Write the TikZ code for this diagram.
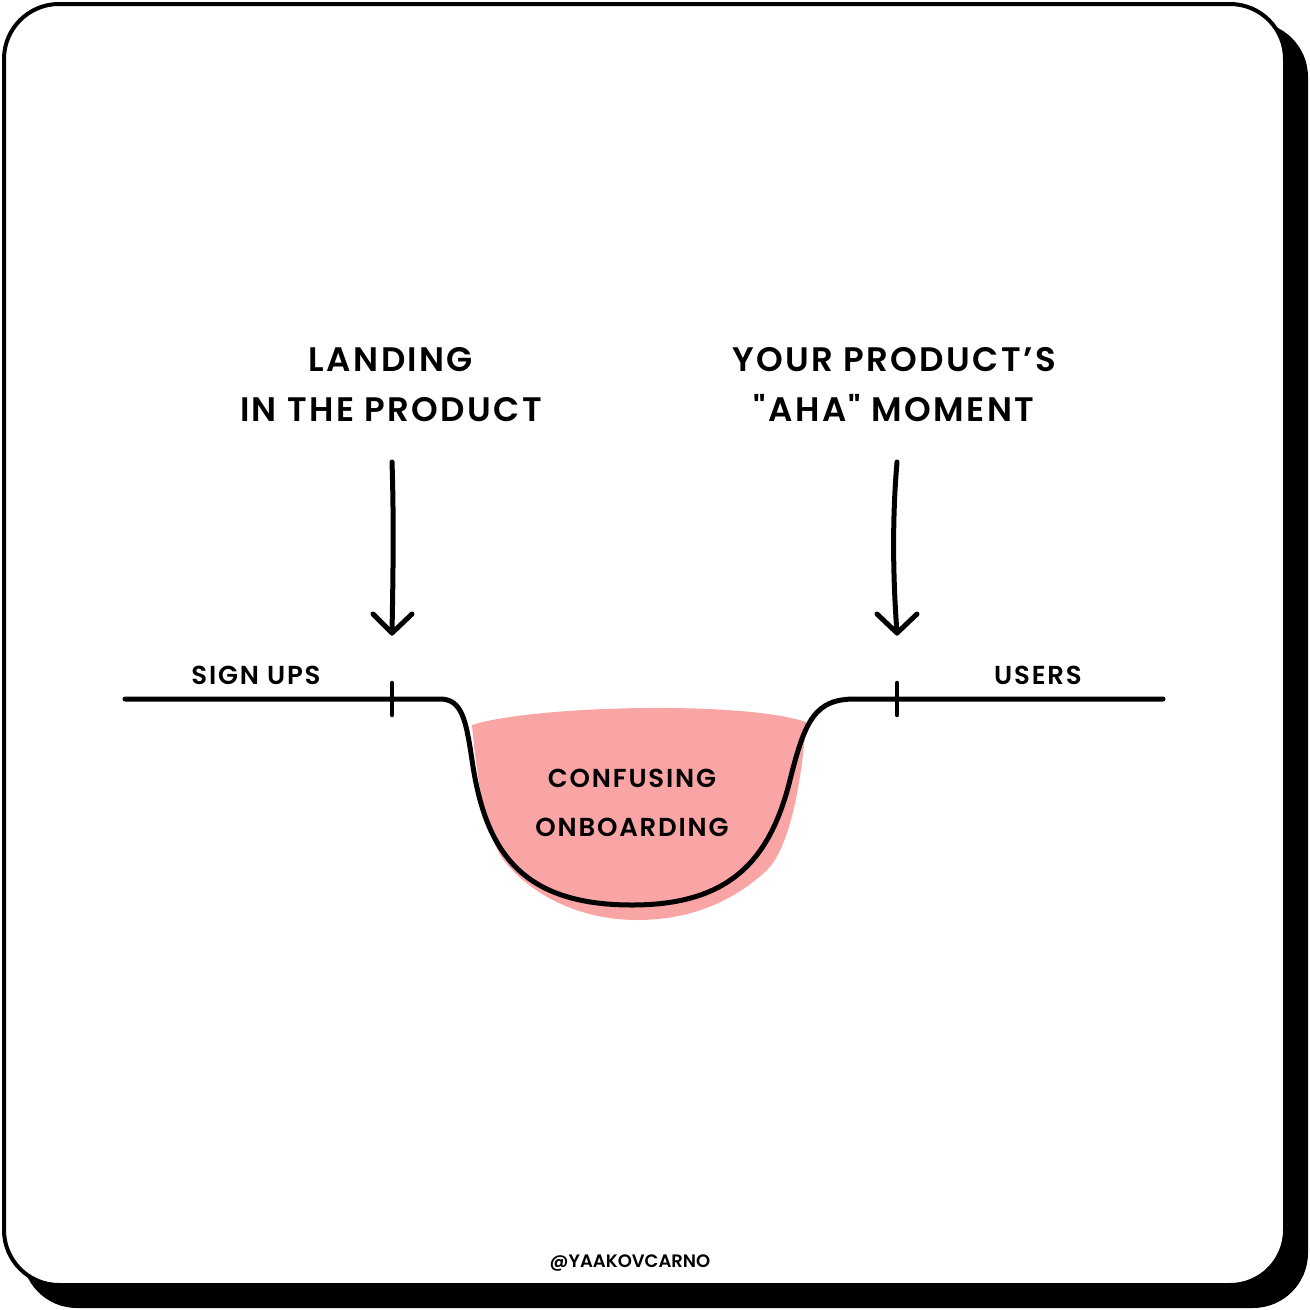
\documentclass[tikz,border=0pt]{standalone}
\usepackage{fontspec}
\setmainfont{Poppins}[UprightFont=* SemiBold]
\newfontfamily\spacedfont{Poppins}[UprightFont=* SemiBold,LetterSpace=7]
\definecolor{pinkfill}{HTML}{FAA5A5}
\begin{document}
\begin{tikzpicture}[x=1pt,y=-1pt,
  ink/.style={line width=5pt,line cap=round,line join=round},
  big/.style={font=\spacedfont\fontsize{34}{40}\selectfont,inner sep=0pt},
  small/.style={font=\spacedfont\fontsize{26}{30}\selectfont,inner sep=0pt}]
\useasboundingbox (0,0) rectangle (1310,1310);
% shadow and card
\fill[black,rounded corners=55pt] (22,22) rectangle (1308,1308);
\filldraw[fill=white,draw=black,line width=4pt,rounded corners=55pt] (4,4) rectangle (1285,1285);
% pink area
\fill[pinkfill] (472,725) .. controls (530,706) and (740,700) .. (806,722)
  .. controls (802,780) and (790,850) .. (765,872)
  .. controls (725,908) and (680,920) .. (637,920)
  .. controls (580,920) and (530,895) .. (502,858)
  .. controls (485,830) and (477,780) .. (472,725) -- cycle;
% main line
\coordinate (ls) at (125,699);
\coordinate (le) at (1163,699);
\draw[ink] (ls) -- (440,699) .. controls (462,699) and (466,720) .. (472,760)
  .. controls (485,850) and (520,905) .. (632,905)
  .. controls (730,905) and (770,860) .. (790,780)
  .. controls (805,720) and (815,699) .. (855,699) -- (le);
% ticks
\coordinate (t1a) at (392,683); \coordinate (t1b) at (392,715);
\coordinate (t2a) at (897,683); \coordinate (t2b) at (897,715);
\draw[ink,line width=4.5pt] (t1a) -- (t1b);
\draw[ink,line width=4.5pt] (t2a) -- (t2b);
% arrows
\coordinate (a1s) at (392,462); \coordinate (a1e) at (392,633);
\coordinate (a2s) at (897,462); \coordinate (a2e) at (897,633);
\draw[ink] (a1s) .. controls (394,520) and (393,580) .. (a1e);
\draw[ink] (373,614) -- (a1e) -- (412,614);
\draw[ink] (a2s) .. controls (892,520) and (893,580) .. (a2e);
\draw[ink] (877,614) -- (a2e) -- (917,614);
% texts
\node[big,anchor=base] (l1) at (391,371) {LANDING};
\node[big,anchor=base] (l2) at (391,421) {IN THE PRODUCT};
\node[big,anchor=base] (r1) at (894,371) {YOUR PRODUCT’S};
\node[big,anchor=base] (r2) at (894,421) {"AHA" MOMENT};
\node[small,anchor=base] (su) at (256,684) {SIGN UPS};
\node[small,anchor=base] (us) at (1038,684) {USERS};
\node[small,anchor=base] (c1) at (632,787) {CONFUSING};
\node[small,anchor=base] (c2) at (632,836) {ONBOARDING};
\node[inner sep=0pt,anchor=base,font=\fontsize{18}{20}\selectfont] (cr) at (630,1267) {@YAAKOVCARNO};
\end{tikzpicture}
\end{document}
